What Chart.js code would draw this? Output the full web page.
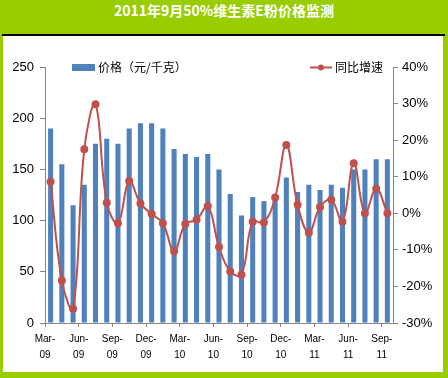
<!DOCTYPE html>
<html>
<head>
<meta charset="utf-8">
<script src="https://cdn.jsdelivr.net/npm/chart.js@4/dist/chart.umd.min.js"></script>
<style>
html,body{margin:0;padding:0;}
#frame{position:relative;width:448px;height:378px;background:#9acd00;overflow:hidden;}
#title{position:absolute;left:0;top:0;width:448px;height:34px;line-height:34px;text-align:center;color:#fff;font:bold 14px "Noto Sans CJK SC",sans-serif;}
#rule{position:absolute;left:2px;top:34px;width:443px;height:2px;background:#000;}
#plot{position:absolute;left:3px;top:36px;width:440px;height:336px;background:#fff;}
#c{position:absolute;left:0;top:0;}
</style>
</head>
<body>
<div id="frame">
  <div id="title">2011年9月50%维生素E粉价格监测</div>
  <div id="rule"></div>
  <div id="plot"></div>
  <canvas id="c" width="448" height="378"></canvas>
</div>
<script>
const titleText = '2011年9月50%维生素E粉价格监测';
const categories = ['2009-03','2009-04','2009-05','2009-06','2009-07','2009-08','2009-09','2009-10','2009-11','2009-12',
  '2010-01','2010-02','2010-03','2010-04','2010-05','2010-06','2010-07','2010-08','2010-09','2010-10','2010-11','2010-12',
  '2011-01','2011-02','2011-03','2011-04','2011-05','2011-06','2011-07','2011-08','2011-09'];
const priceSeries = [190,155,115,135,175,180,175,190,195,195,190,170,165,162,165,150,126,105,123,119,125,142,128,135,130,135,132,150,150,160,160];
const yoySeries = [8.6,-18.4,-26.1,17.5,29.8,2.9,-2.7,8.8,2.7,-0.2,-2.7,-10.4,-2.9,-1.8,2.0,-9.2,-15.9,-16.8,-2.3,-2.5,4.3,18.7,2.3,-5.3,1.7,3.7,-2.3,13.7,0,6.7,0];
const tickLabels = ['Mar-09','Jun-09','Sep-09','Dec-09','Mar-10','Jun-10','Sep-10','Dec-10','Mar-11','Jun-11','Sep-11'];
const tickPositions = [-0.5,2.5,5.5,8.5,11.5,14.5,17.5,20.5,23.5,26.5,29.5];
const leftTicks = [0,50,100,150,200,250];
const rightTicks = [-30,-20,-10,0,10,20,30,40];
const priceLabel = '价格（元/千克）';
const yoyLabel = '同比增速';

const BLUE = '#4f81bd', RED = '#c0504d', AXIS = '#868686';

const legendPlugin = {
  id: 'customLegend',
  afterDraw(chart) {
    const ctx = chart.ctx;
    ctx.save();
    ctx.fillStyle = BLUE;
    ctx.fillRect(72, 64, 23, 7);
    ctx.font = '12px "Noto Sans CJK SC", sans-serif';
    ctx.fillStyle = '#000';
    ctx.textBaseline = 'middle';
    ctx.textAlign = 'left';
    ctx.fillText(priceLabel, 98, 67.5);
    ctx.strokeStyle = RED;
    ctx.lineWidth = 2;
    ctx.beginPath(); ctx.moveTo(310, 67.5); ctx.lineTo(332, 67.5); ctx.stroke();
    ctx.fillStyle = RED;
    ctx.beginPath(); ctx.arc(321, 67.5, 3, 0, Math.PI*2); ctx.fill();
    ctx.fillStyle = '#000';
    ctx.fillText(yoyLabel, 335, 67.5);
    ctx.restore();
  }
};

new Chart(document.getElementById('c'), {
  data: {
    labels: categories,
    datasets: [
      { type: 'line', label: yoyLabel, data: yoySeries, yAxisID: 'y1', xAxisID: 'x',
        borderColor: RED, backgroundColor: RED, borderWidth: 2, pointRadius: 3,
        pointBackgroundColor: RED, pointBorderColor: RED, tension: 0.4, order: 0 },
      { type: 'bar', label: priceLabel, data: priceSeries, yAxisID: 'y', xAxisID: 'x',
        backgroundColor: BLUE, barPercentage: 0.45, categoryPercentage: 1, order: 1 }
    ]
  },
  options: {
    responsive: false,
    animation: false,
    layout: { padding: { top: 67, left: 0, right: 0, bottom: 0 } },
    plugins: { legend: { display: false }, tooltip: { enabled: false }, title: { display: false } },
    scales: {
      x: { type: 'category', display: false, offset: true },
      xl: { type: 'linear', position: 'bottom', min: -0.5, max: 30.5,
        afterBuildTicks(s) { s.ticks = tickPositions.map(v => ({ value: v })); },
        afterFit(s) { s.height = 55; },
        grid: { drawOnChartArea: false, drawTicks: true, tickLength: 4, color: AXIS },
        border: { display: true, color: AXIS, width: 1 },
        ticks: { autoSkip: false, maxRotation: 0, minRotation: 0, padding: 4, color: '#000',
          font: { family: '"Liberation Sans", sans-serif', size: 10, lineHeight: 1.6 },
          callback(v, i) { const t = tickLabels[i]; return t ? [t.slice(0,4), t.slice(4)] : ''; } } },
      y: { type: 'linear', position: 'left', min: 0, max: 250,
        afterBuildTicks(s) { s.ticks = leftTicks.map(v => ({ value: v })); },
        afterFit(s) { s.width = 45; },
        grid: { drawOnChartArea: false, drawTicks: true, tickLength: 5, color: AXIS },
        border: { display: true, color: AXIS, width: 1 },
        ticks: { padding: 6, color: '#000', font: { family: '"Liberation Sans", sans-serif', size: 13 } } },
      y1: { type: 'linear', position: 'right', min: -30, max: 40,
        afterBuildTicks(s) { s.ticks = rightTicks.map(v => ({ value: v })); },
        afterFit(s) { s.width = 55; },
        grid: { drawOnChartArea: false, drawTicks: true, tickLength: 5, color: AXIS },
        border: { display: true, color: AXIS, width: 1 },
        ticks: { padding: 4, color: '#000', font: { family: '"Liberation Sans", sans-serif', size: 13 },
          callback(v) { return v + '%'; } } }
    }
  },
  plugins: [legendPlugin]
});
</script>
</body>
</html>
